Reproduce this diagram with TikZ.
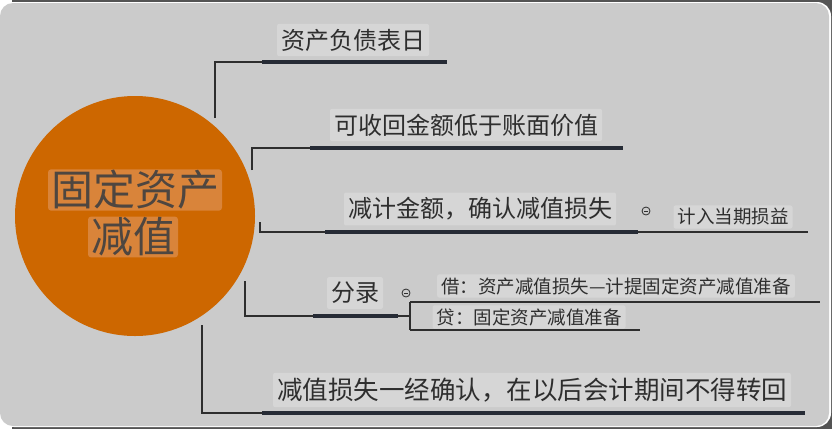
\documentclass[tikz,border=0pt]{standalone}
\usepackage{fontspec}
\setmainfont{Noto Sans CJK SC}
\definecolor{panelgray}{HTML}{CBCBCB}
\definecolor{boxgray}{HTML}{D6D6D6}
\definecolor{bandgray}{HTML}{545454}
\definecolor{rootorange}{HTML}{CD6700}
\definecolor{boxorange}{HTML}{D9843A}
\definecolor{inkgray}{HTML}{2E2E2E}
\definecolor{rootink}{HTML}{4E4640}
\definecolor{linenavy}{HTML}{262B35}
\tikzset{
  topic/.style={fill=boxgray, rounded corners=2pt, inner xsep=4pt, inner ysep=5pt, text=inkgray, font=\fontsize{24}{26}\selectfont},
  subtopic/.style={topic, inner ysep=3pt, font=\fontsize{18.5}{20}\selectfont},
  rootlabel/.style={fill=boxorange, rounded corners=3pt, inner xsep=3pt, inner ysep=1pt, text=rootink, font=\fontsize{42}{44}\selectfont},
  uline/.style={draw=linenavy, line width=4pt},
  thinline/.style={draw=inkgray, line width=1.2pt},
  link/.style={draw=inkgray, line width=1.2pt},
  fold/.style={draw=inkgray, circle, line width=0.8pt, minimum size=8pt, inner sep=0pt,
    path picture={\draw[inkgray, line width=0.8pt] ([xshift=-2pt]path picture bounding box.center) -- ([xshift=2pt]path picture bounding box.center);}}
}
\begin{document}
\begin{tikzpicture}[x=1pt,y=-1pt]
\useasboundingbox (0,0) rectangle (832,429);
% panel
\fill[white] (0,0) rectangle (832,429);
\fill[bandgray] (12,0) rectangle (832,429);
\fill[white, rounded corners=14pt] (0,2) rectangle (831,427);
\fill[panelgray, rounded corners=13pt] (0,3) rectangle (829,426);

% root
\node[circle, fill=rootorange, minimum size=240pt] (root) at (135,216) {};
\node[rootlabel] (r1) at (135,190) {固定资产};
\node[rootlabel] (r2) at (133,237) {减值};

% branch points
\coordinate (s1) at (215,118);
\coordinate (s2) at (252,170);
\coordinate (s3) at (260,222);
\coordinate (s4) at (245,281);
\coordinate (s5) at (202,325);

% underline ends
\coordinate (u1a) at (262,62);  \coordinate (u1b) at (447,62);
\coordinate (u2a) at (310,148); \coordinate (u2b) at (623,148);
\coordinate (u3a) at (325,232); \coordinate (u3b) at (638,232); \coordinate (u3c) at (808,232);
\coordinate (u4a) at (313,316); \coordinate (u4b) at (398,316);
\coordinate (j4) at (410,316);
\coordinate (d1a) at (410,302); \coordinate (d1b) at (820,302);
\coordinate (d2a) at (410,330); \coordinate (d2b) at (640,330);
\coordinate (u5a) at (262,413); \coordinate (u5b) at (805,413);

% topics
\node[topic] (n1) at (353,40) {资产负债表日};
\node[topic] (n2) at (466,125) {可收回金额低于账面价值};
\node[topic] (n3) at (480,209) {减计金额，确认减值损失};
\node[fold] (m3) at (646,211) {};
\node[subtopic] (n3a) at (733,217) {计入当期损益};
\node[topic] (n4) at (355,293) {分录};
\node[fold] (m4) at (406,293) {};
\node[subtopic] (n4a) at (616,286) {借：资产减值损失—计提固定资产减值准备};
\node[subtopic] (n4b) at (529,317) {贷：固定资产减值准备};
\node[topic, font=\fontsize{25.5}{27}\selectfont] (n5) at (532,390) {减值损失一经确认，在以后会计期间不得转回};

% connectors
\path[link] (s1) |- (u1a);
\path[link] (s2) |- (u2a);
\path[link] (s3) |- (u3a);
\path[link] (s4) |- (u4a);
\path[link] (s5) |- (u5a);
\path[link] (u4b) -- (j4);
\path[link] (d1a) -- (d2a);
\path[thinline] (u3b) -- (u3c);
\path[thinline] (d1a) -- (d1b);
\path[thinline] (d2a) -- (d2b);

% underlines
\path[uline] (u1a) -- (u1b);
\path[uline] (u2a) -- (u2b);
\path[uline] (u3a) -- (u3b);
\path[uline] (u4a) -- (u4b);
\path[uline] (u5a) -- (u5b);
\end{tikzpicture}
\end{document}
